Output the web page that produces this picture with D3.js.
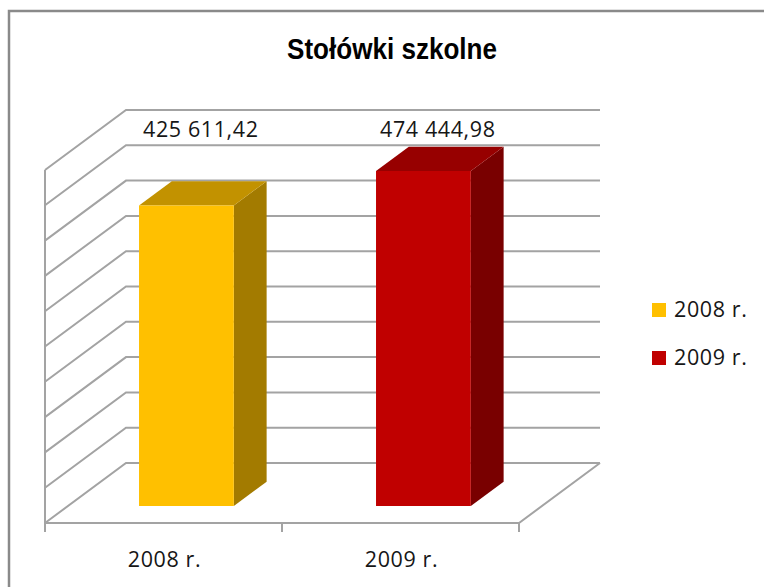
<!DOCTYPE html>
<html>
<head>
<meta charset="utf-8">
<script src="https://cdn.jsdelivr.net/npm/d3@7"></script>
<style>
  html, body { margin: 0; padding: 0; background: #fff; }
  svg { display: block; }
</style>
</head>
<body>
<svg id="chart" width="764" height="587"></svg>
<script>
// Stołówki szkolne – annual totals
const categories = ["2008 r.", "2009 r."];
const values = [425611.42, 474444.98];
const valueLabels = ["425 611,42", "474 444,98"];
const seriesNames = ["2008 r.", "2009 r."];
const tickValues = [0, 50000, 100000, 150000, 200000, 250000, 300000, 350000, 400000, 450000, 500000];

const faceColors = ["#FFC000", "#C00000"];
const topColors = ["#C29200", "#970000"];
const sideColors = ["#A37B00", "#790000"];

const svg = d3.select("#chart");
const font = "'Open Sans', 'DejaVu Sans', sans-serif";

// outer chart frame
svg.append("rect")
  .attr("x", 9).attr("y", 11)
  .attr("width", 800).attr("height", 620)
  .attr("fill", "none").attr("stroke", "#8a8a8a").attr("stroke-width", 2.5);

// 3D projection: front-plane floor origin and depth vector
const x0 = 45, floorY = 523;
const depth = { dx: 81, dy: -60 };
const plotRight = 519;

const x = d3.scaleBand().domain(categories).range([x0, plotRight]).padding(0);
const y = d3.scaleLinear().domain([0, 500000]).range([floorY, floorY - 353]);

// project (screen x on front plane, value, depth fraction z)
const P = (sx, v, z) => [sx + depth.dx * z, y(v) + depth.dy * z];

const grid = svg.append("g")
  .attr("fill", "none").attr("stroke", "#a3a3a3").attr("stroke-width", 2);

// left wall vertical edge
grid.append("line")
  .attr("x1", x0).attr("x2", x0)
  .attr("y1", y(500000)).attr("y2", y(0));

// gridlines across left wall and back wall
grid.selectAll("path.gl").data(tickValues).join("path")
  .attr("class", "gl")
  .attr("d", v => {
    const a = P(x0, v, 0), b = P(x0, v, 1), c = P(plotRight, v, 1);
    return `M${a}L${b}L${c}`;
  });

// floor front edge and right edge
grid.append("path")
  .attr("d", () => {
    const a = P(x0, 0, 0), b = P(plotRight, 0, 0), c = P(plotRight, 0, 1);
    return `M${a}L${b}L${c}`;
  });

// category tick marks
const tickEdges = [x0, ...categories.map(c => x(c) + x.bandwidth())];
grid.selectAll("line.tk").data(tickEdges).join("line")
  .attr("class", "tk")
  .attr("x1", d => d).attr("x2", d => d)
  .attr("y1", floorY).attr("y2", floorY + 9);

// bars
const z0 = 0.283, z1 = 0.688;
const barW = x.bandwidth() * 0.4;
const bars = svg.append("g");
categories.forEach((c, i) => {
  const cx = x(c) + x.bandwidth() / 2;
  const l = cx - barW / 2, r = cx + barW / 2;
  const v = values[i];
  const poly = pts => "M" + pts.map(p => p.join(",")).join("L") + "Z";
  const g = bars.append("g");
  // right side face
  g.append("path")
    .attr("d", poly([P(r, 0, z0), P(r, v, z0), P(r, v, z1), P(r, 0, z1)]))
    .attr("fill", sideColors[i]);
  // top face
  g.append("path")
    .attr("d", poly([P(l, v, z0), P(r, v, z0), P(r, v, z1), P(l, v, z1)]))
    .attr("fill", topColors[i]);
  // front face
  g.append("path")
    .attr("d", poly([P(l, 0, z0), P(r, 0, z0), P(r, v, z0), P(l, v, z0)]))
    .attr("fill", faceColors[i]);
  // value label above the bar
  const mid = P(cx, v, (z0 + z1) / 2);
  g.append("text")
    .attr("x", mid[0] - 2)
    .attr("y", 137)
    .attr("text-anchor", "middle")
    .attr("font-family", font)
    .attr("font-size", 21.5)
    .attr("letter-spacing", 0.6)
    .attr("fill", "#161616")
    .text(valueLabels[i]);
});

// category axis labels
svg.append("g").selectAll("text").data(categories).join("text")
  .attr("x", d => x(d) + x.bandwidth() / 2 + 1)
  .attr("y", 567)
  .attr("text-anchor", "middle")
  .attr("font-family", font)
  .attr("font-size", 21.5)
  .attr("letter-spacing", 0.6)
  .attr("fill", "#161616")
  .text(d => d);

// title
svg.append("text")
  .attr("x", 392).attr("y", 59)
  .attr("text-anchor", "middle")
  .attr("font-family", "'Liberation Sans Narrow', 'Arial Narrow', 'Liberation Sans', sans-serif")
  .attr("font-weight", "bold")
  .attr("font-size", 29)
  .attr("textLength", 210)
  .attr("lengthAdjust", "spacingAndGlyphs")
  .attr("fill", "#000")
  .text("Stołówki szkolne");

// legend
const legend = svg.append("g").selectAll("g").data(seriesNames).join("g")
  .attr("transform", (d, i) => `translate(652,${303 + i * 48})`);
legend.append("rect")
  .attr("width", 14).attr("height", 14)
  .attr("fill", (d, i) => faceColors[i]);
legend.append("text")
  .attr("x", 22).attr("y", 14)
  .attr("font-family", font)
  .attr("font-size", 21.5)
  .attr("letter-spacing", 0.6)
  .attr("fill", "#161616")
  .text(d => d);
</script>
</body>
</html>
